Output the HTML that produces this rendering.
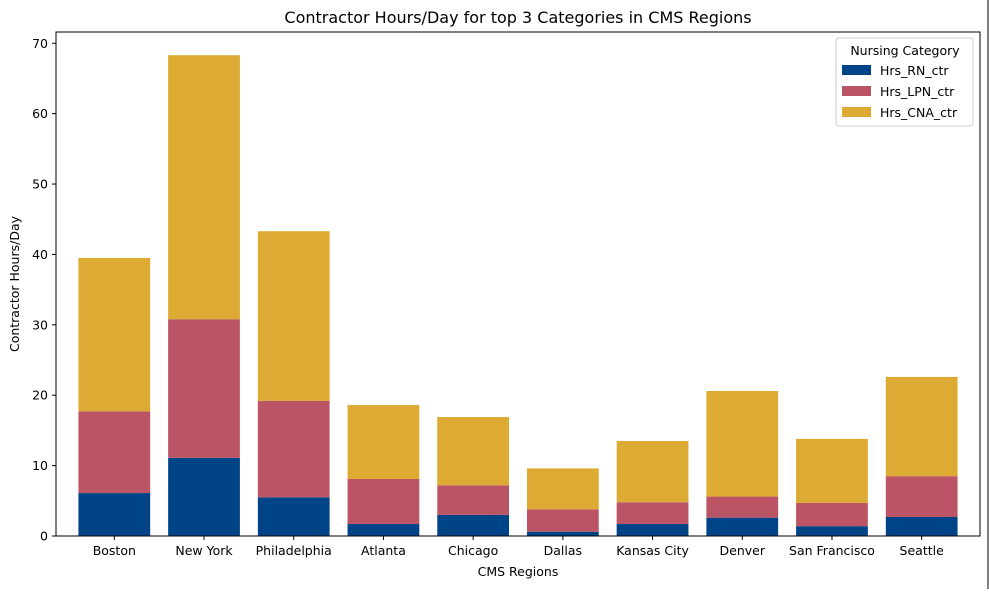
<!DOCTYPE html>
<html><head><meta charset="utf-8"><style>
body{margin:0;background:#fff;width:989px;height:589px;overflow:hidden}
svg{font-family:"DejaVu Sans","Liberation Sans",sans-serif}
</style></head><body>
<svg id="c" width="989" height="589">
<line x1="988" y1="0" x2="988" y2="589" stroke="#000" stroke-width="1"/>
</svg>
<script>
const categories=["Boston","New York","Philadelphia","Atlanta","Chicago","Dallas","Kansas City","Denver","San Francisco","Seattle"];
const rnValues=[6.1,11.1,5.5,1.7,3.0,0.6,1.7,2.6,1.4,2.7];
const lpnValues=[11.6,19.7,13.7,6.4,4.2,3.2,3.1,3.0,3.3,5.8];
const cnaValues=[21.8,37.5,24.1,10.5,9.7,5.8,8.7,15.0,9.1,14.1];
const seriesNames=["Hrs_RN_ctr","Hrs_LPN_ctr","Hrs_CNA_ctr"];
const yTicks=[0,10,20,30,40,50,60,70];
const colors=["#004488","#bb5566","#ddaa33"];
const NS="http://www.w3.org/2000/svg";
const svg=document.getElementById('c');
const L=56,R=980,T=32,B=536,ymax=71.6;
const step=(R-L)/(categories.length-1+1.3);
const x=i=>L+step*(0.65+i);
const y=v=>B-(B-T)*v/ymax;
function el(t,a,txt){const e=document.createElementNS(NS,t);for(const k in a)e.setAttribute(k,a[k]);if(txt!=null)e.textContent=txt;svg.appendChild(e);return e;}
const series=[rnValues,lpnValues,cnaValues];
categories.forEach((c,i)=>{let base=0;series.forEach((s,j)=>{
const r=el('rect',{x:x(i)-step*0.4,y:y(base+s[i]),width:step*0.8,height:y(base)-y(base+s[i]),fill:colors[j]});


base+=s[i];});
const t=el('text',{x:x(i),y:555,'text-anchor':'middle','font-size':12.5},c);


el('line',{x1:x(i),x2:x(i),y1:B,y2:B+4,stroke:'#000'});
});
yTicks.forEach(v=>{el('line',{x1:L-4,x2:L,y1:y(v),y2:y(v),stroke:'#000'});
const t=el('text',{x:L-8,y:y(v)+4.5,'text-anchor':'end','font-size':12.5},v);

});
const ax=el('rect',{x:L,y:T,width:R-L,height:B-T,fill:'none',stroke:'#000','stroke-width':1});


const ti=el('text',{x:(L+R)/2,y:23,'text-anchor':'middle','font-size':16},'Contractor Hours/Day for top 3 Categories in CMS Regions');


const xt=el('text',{x:(L+R)/2,y:576,'text-anchor':'middle','font-size':12.5},'CMS Regions');


const yt=el('text',{x:19,y:284,'text-anchor':'middle','font-size':12.5,transform:'rotate(-90 19 284)'},'Contractor Hours/Day');


const lg=el('rect',{x:836,y:38,width:137,height:88,fill:'#fff',stroke:'#ccc',rx:3});


el('text',{x:905,y:55,'text-anchor':'middle','font-size':12.5},'Nursing Category');
seriesNames.forEach((n,j)=>{
el('rect',{x:842,y:65+j*21,width:29,height:10,fill:colors[j]});
const t=el('text',{x:880,y:75+j*21,'font-size':12.5},n);

});
</script>
</body></html>
